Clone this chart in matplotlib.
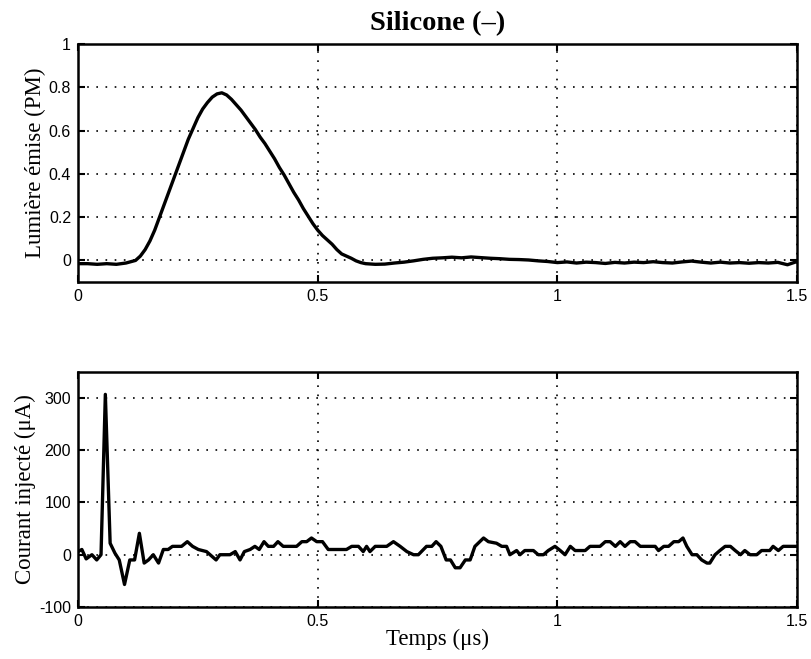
import matplotlib
matplotlib.use("Agg")
import matplotlib.pyplot as plt
import numpy as np

# lumiere emise (PM)
t_lum = [0, 0.02, 0.04, 0.06, 0.08, 0.10, 0.12, 0.13, 0.14, 0.15, 0.16, 0.17, 0.18, 0.19,
         0.20, 0.21, 0.22, 0.23, 0.24, 0.25, 0.26, 0.27, 0.28, 0.29, 0.30, 0.31, 0.32, 0.33,
         0.34, 0.35, 0.36, 0.37, 0.38, 0.39, 0.40, 0.41, 0.42, 0.43, 0.44, 0.45, 0.46, 0.47,
         0.48, 0.49, 0.50, 0.51, 0.52, 0.53, 0.54, 0.55, 0.56, 0.57, 0.58, 0.59, 0.60, 0.62,
         0.64, 0.66, 0.68, 0.70, 0.72, 0.74, 0.76, 0.78, 0.80, 0.82, 0.84, 0.86, 0.88, 0.90,
         0.92, 0.94, 0.96, 0.98, 1.00, 1.02, 1.04, 1.06, 1.08, 1.10, 1.12, 1.14, 1.16, 1.18,
         1.20, 1.22, 1.24, 1.26, 1.28, 1.30, 1.32, 1.34, 1.36, 1.38, 1.40, 1.42, 1.44, 1.46,
         1.48, 1.50]
lumiere = [-0.015, -0.015, -0.018, -0.015, -0.018, -0.012, 0.0, 0.02, 0.05, 0.09, 0.14, 0.20,
           0.26, 0.32, 0.38, 0.44, 0.50, 0.56, 0.61, 0.66, 0.70, 0.73, 0.755, 0.77, 0.775, 0.765,
           0.745, 0.72, 0.695, 0.665, 0.635, 0.605, 0.57, 0.54, 0.505, 0.47, 0.43, 0.395, 0.355,
           0.315, 0.28, 0.24, 0.205, 0.17, 0.14, 0.115, 0.095, 0.075, 0.05, 0.03, 0.02, 0.01,
           -0.002, -0.01, -0.015, -0.018, -0.017, -0.012, -0.008, -0.002, 0.005, 0.01, 0.012,
           0.015, 0.012, 0.016, 0.013, 0.01, 0.008, 0.005, 0.004, 0.002, -0.002, -0.005, -0.01,
           -0.007, -0.012, -0.008, -0.01, -0.014, -0.009, -0.012, -0.008, -0.01, -0.006, -0.01,
           -0.012, -0.007, -0.003, -0.008, -0.012, -0.008, -0.012, -0.01, -0.013, -0.01, -0.012,
           -0.009, -0.02, -0.005]

# courant injecte (uA)
t_cour = [0, 0.008, 0.017, 0.029, 0.039, 0.048, 0.057, 0.067, 0.077, 0.086, 0.097, 0.108,
          0.118, 0.128, 0.138, 0.147, 0.157, 0.168, 0.178, 0.188, 0.197, 0.216, 0.228, 0.239,
          0.251, 0.268, 0.288, 0.296, 0.317, 0.328, 0.338, 0.347, 0.359, 0.369, 0.378, 0.388,
          0.397, 0.408, 0.417, 0.428, 0.456, 0.467, 0.477, 0.487, 0.498, 0.51, 0.522, 0.56,
          0.571, 0.585, 0.595, 0.602, 0.609, 0.62, 0.644, 0.658, 0.672, 0.686, 0.700, 0.71,
          0.727, 0.738, 0.747, 0.757, 0.768, 0.777, 0.787, 0.797, 0.808, 0.818, 0.828, 0.846,
          0.856, 0.873, 0.884, 0.894, 0.901, 0.915, 0.922, 0.932, 0.95, 0.96, 0.971, 0.981,
          0.995, 1.006, 1.016, 1.027, 1.037, 1.058, 1.068, 1.089, 1.1, 1.11, 1.121, 1.131,
          1.141, 1.152, 1.162, 1.173, 1.204, 1.211, 1.222, 1.232, 1.243, 1.253, 1.262, 1.27,
          1.281, 1.291, 1.301, 1.312, 1.318, 1.329, 1.339, 1.35, 1.361, 1.371, 1.382, 1.391,
          1.402, 1.416, 1.426, 1.443, 1.45, 1.461, 1.471, 1.502]
courant = [6, 10, -8, 0, -10, 0, 307, 22, 3, -10, -57, -10, -10, 41, -16, -10, 0, -16, 10, 10,
           16, 16, 25, 16, 10, 6, -10, 0, 0, 6, -10, 6, 10, 16, 10, 25, 16, 16, 25, 16, 16, 25,
           25, 32, 25, 25, 10, 10, 16, 16, 6, 16, 6, 16, 16, 25, 16, 6, 0, 0, 16, 16, 25, 16,
           -10, -10, -25, -25, -10, -10, 16, 32, 25, 22, 16, 16, 0, 8, 0, 8, 8, 0, 0, 8, 16, 8,
           0, 16, 8, 8, 16, 16, 25, 25, 16, 25, 16, 25, 25, 16, 16, 8, 16, 16, 25, 25, 32, 16,
           0, 0, -10, -16, -16, 0, 8, 16, 16, 8, 0, 8, 0, 0, 8, 8, 16, 8, 16, 16]

xticks = [0, 0.5, 1, 1.5]
xticklabels = ["0", "0.5", "1", "1.5"]
yticks_lum = [0, 0.2, 0.4, 0.6, 0.8, 1]
yticks_cour = [-100, 0, 100, 200, 300]

serif = ["Liberation Serif", "DejaVu Serif"]
plt.rcParams["font.family"] = ["Liberation Sans", "DejaVu Sans"]
plt.rcParams["font.size"] = 11.5
plt.rcParams["axes.unicode_minus"] = False

fig = plt.figure(figsize=(8.11, 6.59), dpi=100)
ax1 = fig.add_axes([0.0962, 0.572, 0.8866, 0.361])
ax2 = fig.add_axes([0.0962, 0.079, 0.8866, 0.3566])


def style(ax):
    ax.set_xlim(0, 1.5)
    ax.set_xticks(xticks)
    ax.set_xticklabels(xticklabels)
    ax.grid(True, linestyle=(0, (1, 4.5)), color="black", linewidth=1.2)
    ax.tick_params(direction="in", length=5, width=1.5, top=True, right=True, pad=5)
    for s in ax.spines.values():
        s.set_linewidth(1.8)


ax1.plot(t_lum, lumiere, color="black", linewidth=2.4)
ax1.set_ylim(-0.1, 1)
ax1.set_yticks(yticks_lum)
ax1.set_yticklabels(["0", "0.2", "0.4", "0.6", "0.8", "1"])
style(ax1)
ax1.set_ylabel("Lumière émise (PM)", family=serif, fontsize=16.5, labelpad=2)
ax1.set_title("Silicone (–)", family=serif, fontsize=20.5, fontweight="bold", pad=10)

ax2.plot(t_cour, courant, color="black", linewidth=2.4)
ax2.set_ylim(-100, 350)
ax2.set_yticks(yticks_cour)
style(ax2)
ax2.set_ylabel("Courant injecté (μA)", family=serif, fontsize=16.5, labelpad=2)
ax2.set_xlabel("Temps (μs)", family=serif, fontsize=16.5, labelpad=0)

fig.savefig("out.png", dpi=100)
